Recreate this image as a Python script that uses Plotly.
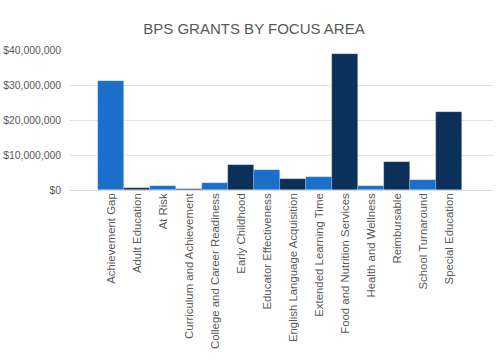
import plotly.graph_objects as go

categories = ["Achievement Gap", "Adult Education", "At Risk", "Curriculum and Achievement",
              "College and Career Readiness", "Early Childhood", "Educator Effectiveness",
              "English Language Acquisition", "Extended Learning Time", "Food and Nutrition Services",
              "Health and Wellness", "Reimbursable", "School Turnaround", "Special Education"]
values = [31100000, 450000, 1050000, 150000, 2100000, 7050000, 5800000,
          3250000, 3600000, 38800000, 1150000, 8100000, 3000000, 22400000]
light = "#1a6fca"
dark = "#0b3059"
colors = [light if i % 2 == 0 else dark for i in range(len(categories))]

fig = go.Figure(go.Bar(
    x=categories, y=values, marker=dict(color=colors, line=dict(color="rgba(255,255,255,0.35)", width=0.6)),
))
fig.update_layout(
    width=500, height=362,
    paper_bgcolor="white", plot_bgcolor="white",
    margin=dict(l=69, r=7, t=50, b=172, autoexpand=False),
    bargap=0,
    title=dict(text="BPS GRANTS BY FOCUS AREA", x=0.508, xanchor="center", xref="container",
               yref="container", y=1 - 29 / 362, yanchor="middle",
               font=dict(family="Liberation Sans, Arial", size=15, color="#595959")),
    showlegend=False,
    font=dict(family="Liberation Sans, Arial", color="#595959"),
)
fig.update_xaxes(range=[-1.62, 14.7], tickangle=-90, tickfont=dict(size=11.4, color="#595959"),
                 showline=False, showgrid=False, ticks="", ticklen=0, automargin=False)
fig.update_yaxes(range=[0, 40000000], dtick=10000000, tickformat="$,.0f", automargin=False,
                 tickfont=dict(size=10.4, color="#595959"), gridcolor="#e3e3e3", gridwidth=1,
                 zeroline=True, zerolinecolor="#d9d9d9", zerolinewidth=1, ticks="", ticklabelstandoff=7)
fig.write_html("out.html", config={"displayModeBar": False},
               post_script="document.body.style.margin='0';document.body.style.overflow='hidden';")
